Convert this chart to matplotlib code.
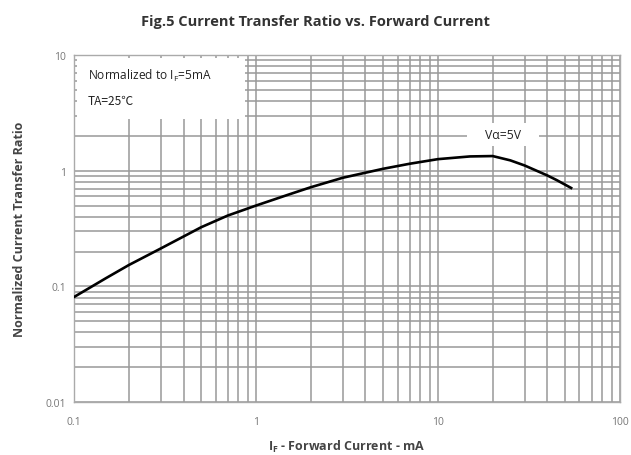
import matplotlib
matplotlib.use('Agg')
import matplotlib.pyplot as plt
import matplotlib.ticker as mticker
from matplotlib.patches import Rectangle

# Dados (If em mA, CTR normalizado)
forward_current = [0.1, 0.15, 0.2, 0.3, 0.5, 0.7, 1, 1.5, 2, 3, 5, 7, 10, 15, 20, 25, 30, 40, 45, 54]
ctr_normalized = [0.081, 0.118, 0.153, 0.213, 0.325, 0.41, 0.5, 0.62, 0.72, 0.87, 1.04, 1.15, 1.26, 1.33, 1.34, 1.23, 1.11, 0.91, 0.83, 0.71]

x_ticks = [0.1, 1, 10, 100]
x_tick_labels = ['0.1', '1', '10', '100']
y_ticks = [0.01, 0.1, 1, 10]
y_tick_labels = ['0.01', '0.1', '1', '10']

plt.rcParams['font.family'] = ['Open Sans', 'DejaVu Sans']

fig = plt.figure(figsize=(6.31, 4.56), dpi=100)
ax = fig.add_axes([0.1173, 0.116, 0.865, 0.761])

ax.plot(forward_current, ctr_normalized, color='black', lw=1.9, zorder=5)

ax.set_xscale('log')
ax.set_yscale('log')
ax.set_xlim(0.1, 100)
ax.set_ylim(0.01, 10)

ax.set_xticks(x_ticks)
ax.set_xticklabels(x_tick_labels)
ax.set_yticks(y_ticks)
ax.set_yticklabels(y_tick_labels)
ax.xaxis.set_minor_locator(mticker.LogLocator(base=10, subs=range(2, 10)))
ax.yaxis.set_minor_locator(mticker.LogLocator(base=10, subs=range(2, 10)))
ax.xaxis.set_minor_formatter(mticker.NullFormatter())
ax.yaxis.set_minor_formatter(mticker.NullFormatter())
ax.tick_params(which='both', length=0, labelsize=7.5, labelcolor='#777777')
ax.tick_params(axis='x', pad=10)
ax.tick_params(axis='y', pad=6)

ax.grid(True, which='both', color='#999999', lw=1.1)
ax.set_axisbelow(True)
for s in ax.spines.values():
    s.set_color('#aaaaaa')
    s.set_linewidth(1.0)

# Caixas brancas que cobrem a grade
ax.add_patch(Rectangle((0.006, 0.815), 0.307, 0.176, transform=ax.transAxes,
                       facecolor='white', edgecolor='none', zorder=3))
ax.text(0.025, 0.942, 'Normalized to I$_\\mathregular{F}$=5mA', transform=ax.transAxes,
        fontsize=8.6, color='#222222', va='center', zorder=4)
ax.text(0.025, 0.868, 'TA=25\u2103', transform=ax.transAxes,
        fontsize=8.6, color='#222222', va='center', zorder=4,
        family=['Noto Sans CJK SC', 'DejaVu Sans'])

ax.add_patch(Rectangle((0.72, 0.738), 0.132, 0.066, transform=ax.transAxes,
                       facecolor='white', edgecolor='none', zorder=3))
ax.text(0.786, 0.771, 'V\u03b1=5V', transform=ax.transAxes, fontsize=8.8,
        color='#222222', ha='center', va='center', zorder=4)

fig.text(0.5, 0.952, 'Fig.5 Current Transfer Ratio vs. Forward Current',
         ha='center', va='center', fontsize=10.5, fontweight='bold', color='#333333')
ax.set_xlabel('I$_\\mathregular{F}$ - Forward Current - mA', fontsize=9,
              fontweight='bold', color='#444444', labelpad=8)
ax.set_ylabel('Normalized Current Transfer Ratio', fontsize=9,
              fontweight='bold', color='#444444', labelpad=14)

fig.savefig('out.png', dpi=100)
